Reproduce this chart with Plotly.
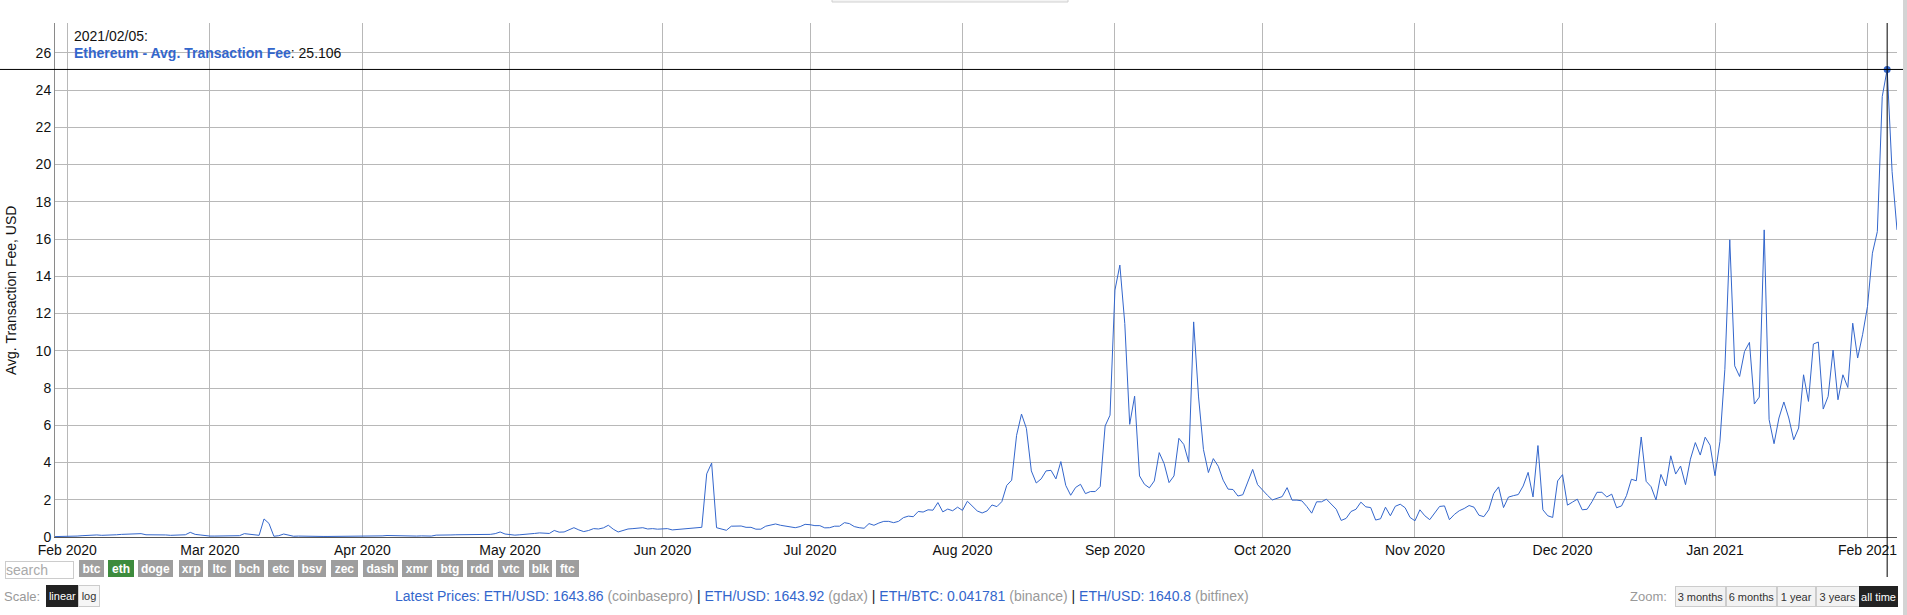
import pandas as pd
import plotly.graph_objects as go

# avg. transaction fee in USD, one value per day
fee_jan20 = [0.02, 0.02, 0.02]  # Jan 29-31
fee_feb20 = [0.02, 0.04, 0.05, 0.07, 0.09, 0.11, 0.11, 0.09, 0.09, 0.09,
             0.12, 0.14, 0.14, 0.14, 0.16, 0.18, 0.12, 0.12, 0.14, 0.14,
             0.11, 0.09, 0.11, 0.11, 0.12, 0.25, 0.14, 0.11, 0.07]
fee_mar20 = [0.05, 0.05, 0.05, 0.05, 0.07, 0.07, 0.07, 0.18, 0.14, 0.11,
             0.09, 0.97, 0.73, 0.04, 0.07, 0.16, 0.09, 0.04, 0.05, 0.04,
             0.03, 0.03, 0.04, 0.03, 0.03, 0.03, 0.02, 0.02, 0.03, 0.03, 0.03]
fee_apr20 = [0.03, 0.03, 0.04, 0.04, 0.06, 0.08, 0.07, 0.06, 0.06, 0.05,
             0.05, 0.05, 0.06, 0.05, 0.05, 0.10, 0.09, 0.10, 0.11, 0.12,
             0.12, 0.13, 0.13, 0.13, 0.13, 0.13, 0.14, 0.18, 0.27, 0.16]
fee_may20 = [0.13, 0.10, 0.12, 0.13, 0.15, 0.19, 0.22, 0.20, 0.19, 0.35,
             0.26, 0.27, 0.38, 0.50, 0.38, 0.29, 0.35, 0.45, 0.43, 0.49,
             0.63, 0.42, 0.27, 0.36, 0.43, 0.45, 0.49, 0.50, 0.43, 0.45, 0.42]
fee_jun20 = [0.42, 0.45, 0.38, 0.40, 0.42, 0.45, 0.49, 0.52, 0.52, 3.39,
             3.97, 0.50, 0.42, 0.36, 0.58, 0.58, 0.59, 0.52, 0.52, 0.42,
             0.42, 0.58, 0.66, 0.70, 0.63, 0.58, 0.54, 0.50, 0.56, 0.68]
fee_jul20 = [0.66, 0.61, 0.61, 0.49, 0.50, 0.58, 0.58, 0.77, 0.72, 0.56,
             0.50, 0.47, 0.72, 0.63, 0.75, 0.84, 0.84, 0.77, 0.84, 1.04,
             1.12, 1.09, 1.37, 1.34, 1.46, 1.44, 1.85, 1.35, 1.50, 1.41, 1.60]
fee_aug20 = [1.43, 1.92, 1.65, 1.40, 1.29, 1.40, 1.72, 1.63, 1.90, 2.77,
             3.05, 5.46, 6.60, 5.83, 3.55, 2.90, 3.12, 3.55, 3.58, 3.12,
             4.05, 2.77, 2.24, 2.66, 2.83, 2.33, 2.44, 2.44, 2.71, 5.96, 6.54]
fee_sep20 = [13.26, 14.60, 11.46, 6.05, 7.56, 3.28, 2.83, 2.64, 3.01, 4.53,
             3.94, 2.92, 3.28, 5.30, 4.97, 4.02, 11.55, 7.52, 4.69, 3.46,
             4.21, 3.80, 3.05, 2.57, 2.55, 2.20, 2.27, 2.95, 3.63, 2.81]
fee_oct20 = [2.51, 2.24, 1.99, 2.06, 2.17, 2.65, 1.98, 1.98, 1.94, 1.64,
             1.28, 1.89, 1.89, 2.03, 1.74, 1.49, 0.89, 1.00, 1.37, 1.49,
             1.87, 1.62, 1.58, 0.91, 0.98, 1.60, 1.14, 1.65, 1.76, 1.57, 1.05]
fee_nov20 = [0.87, 1.46, 1.14, 0.93, 1.30, 1.64, 1.67, 0.93, 1.21, 1.41,
             1.53, 1.69, 1.60, 1.17, 1.09, 1.46, 2.33, 2.69, 1.58, 2.14,
             2.22, 2.28, 2.74, 3.47, 2.15, 4.91, 1.46, 1.14, 1.05, 3.01]
fee_dec20 = [3.35, 1.71, 1.87, 2.03, 1.46, 1.49, 1.90, 2.40, 2.40, 2.15,
             2.30, 1.57, 1.67, 2.22, 3.10, 3.02, 5.37, 2.99, 2.70, 1.99,
             3.36, 2.74, 4.36, 3.38, 3.81, 2.81, 4.18, 5.07, 4.40, 5.36, 4.93]
fee_jan21 = [3.29, 5.13, 9.00, 15.96, 9.19, 8.62, 9.96, 10.45, 7.14, 7.51,
             16.49, 6.30, 5.01, 6.39, 7.25, 6.39, 5.22, 5.85, 8.71, 7.28,
             10.36, 10.47, 6.87, 7.55, 10.04, 7.37, 8.71, 8.03, 11.48, 9.61, 10.86]
fee_feb21 = [12.38, 15.24, 16.40, 23.65, 25.106, 19.62, 16.49]

fee = (fee_jan20 + fee_feb20 + fee_mar20 + fee_apr20 + fee_may20 + fee_jun20
       + fee_jul20 + fee_aug20 + fee_sep20 + fee_oct20 + fee_nov20 + fee_dec20
       + fee_jan21 + fee_feb21)
dates = pd.date_range("2020-01-29", "2021-02-07", freq="D")
assert len(dates) == len(fee)

SELECTED = "2021-02-05"
SERIES = "Ethereum - Avg. Transaction Fee"

coins = ["btc", "eth", "doge", "xrp", "ltc", "bch", "etc", "bsv", "zec",
         "dash", "xmr", "btg", "rdd", "vtc", "blk", "ftc"]
zoom_opts = ["3 months", "6 months", "1 year", "3 years", "all time"]
prices = [("ETH/USD", "1643.86", "coinbasepro"), ("ETH/USD", "1643.92", "gdax"),
          ("ETH/BTC", "0.041781", "binance"), ("ETH/USD", "1640.8", "bitfinex")]

BLUE = "#3366cc"
FONT = "Arial, Liberation Sans, sans-serif"
W, H = 1907, 615
L, R, T, B = 55, 10, 23, 78
PW, PH = W - L - R, H - T - B

# pixel edges of the page widgets under the chart
coin_edges = [(78.6, 104), (108, 134), (138.4, 173.2), (178.6, 203), (207.6, 230.8),
              (235, 264), (268, 294), (298, 326), (331, 358), (362.5, 397.3),
              (402, 432), (436.6, 462.5), (467.4, 493.3), (497.8, 524),
              (528.6, 551.8), (555.8, 578.6)]
zoom_edges = [1675, 1726, 1777, 1815.5, 1859, 1898]


def px(x):
    return (x - L) / PW


def py(y):
    return (H - B - y) / PH


sel_idx = dates.get_loc(pd.Timestamp(SELECTED))
sel_val = fee[sel_idx]

fig = go.Figure()
fig.add_trace(go.Scatter(x=dates, y=fee, mode="lines",
                         line=dict(color=BLUE, width=1), hoverinfo="skip"))
fig.add_trace(go.Scatter(x=[dates[sel_idx]], y=[sel_val], mode="markers",
                         marker=dict(color=BLUE, size=7), hoverinfo="skip",
                         cliponaxis=False))

shapes = [
    dict(type="line", xref="x", yref="paper", x0=dates[sel_idx], x1=dates[sel_idx],
         y0=py(577), y1=1, line=dict(color="black", width=1)),
    dict(type="line", xref="paper", yref="y", x0=px(0), x1=px(1903),
         y0=sel_val, y1=sel_val, line=dict(color="black", width=1)),
    # scrollbar strip and cut-off toolbar at the top
    dict(type="rect", xref="paper", yref="paper", x0=px(1903), x1=px(1910),
         y0=py(H), y1=py(0), fillcolor="#d4d4d4", line=dict(width=0)),
    dict(type="rect", xref="paper", yref="paper", x0=px(832), x1=px(1068),
         y0=py(2), y1=py(-6), fillcolor="#f4f4f4", line=dict(color="#d0d0d0", width=1)),
]

ann = []
ann.append(dict(text=dates[sel_idx].strftime("%Y/%m/%d") + ":", x=px(72), y=py(36),
                xanchor="left", yanchor="middle", font=dict(size=14, color="#111")))
ann.append(dict(text=f"<b><span style='color:{BLUE}'>{SERIES}</span></b>: {sel_val:.3f}",
                x=px(72), y=py(53), xanchor="left", yanchor="middle",
                font=dict(size=14, color="#111")))
ann.append(dict(text="Avg. Transaction Fee, USD", textangle=-90, x=px(11), y=py(291),
                xanchor="center", yanchor="middle", font=dict(size=14, color="#111")))

# search box
ann.append(dict(text="search", x=px(4.5), y=py(569.5), xanchor="left", yanchor="middle",
                width=67, height=16, align="left", bgcolor="white", bordercolor="#cccccc",
                borderwidth=1, borderpad=0, font=dict(size=14, color="#aaaaaa")))

# coin buttons
for c, (x0, x1) in zip(coins, coin_edges):
    col = "#3d8b3d" if c == "eth" else "#9e9e9e"
    ann.append(dict(text=f"<b>{c}</b>", x=px(x0), y=py(568.5), xanchor="left",
                    yanchor="middle", width=x1 - x0 - 2, height=15, borderpad=0,
                    borderwidth=1, bgcolor=col, bordercolor=col,
                    font=dict(size=12, color="white")))

# scale row
ann.append(dict(text="Scale:", x=px(2), y=py(596), xanchor="left", yanchor="middle",
                font=dict(size=13, color="#999999")))
ann.append(dict(text="linear", x=px(45.5), y=py(596), xanchor="left", yanchor="middle",
                width=31, height=20, borderpad=0, borderwidth=1, bgcolor="#222222",
                bordercolor="#222222", font=dict(size=11, color="white")))
ann.append(dict(text="log", x=px(78), y=py(596), xanchor="left", yanchor="middle",
                width=20, height=20, borderpad=0, borderwidth=1, bgcolor="#f6f6f6",
                bordercolor="#cccccc", font=dict(size=11, color="#333333")))

# latest prices
parts = []
for i, (pair, val, ex) in enumerate(prices):
    if i == 0:
        parts.append(f"<span style='color:{BLUE}'>Latest Prices: {pair}: {val}</span>")
    else:
        parts.append(f"<span style='color:#222'> | </span><span style='color:{BLUE}'>{pair}: {val}</span>")
    parts.append(f"<span style='color:#999999'> ({ex})</span>")
ann.append(dict(text="".join(parts), x=px(393), y=py(596), xanchor="left",
                yanchor="middle", font=dict(size=14)))

# zoom buttons
ann.append(dict(text="Zoom:", x=px(1669), y=py(596), xanchor="right", yanchor="middle",
                font=dict(size=13, color="#999999")))
for i, z in enumerate(zoom_opts):
    active = z == "all time"
    ann.append(dict(text=z, x=px(zoom_edges[i]), y=py(596), xanchor="left",
                    yanchor="middle", width=zoom_edges[i + 1] - zoom_edges[i] - 2,
                    height=19, borderpad=0, borderwidth=1,
                    bgcolor="#222222" if active else "#f2f2f2",
                    bordercolor="#222222" if active else "#cccccc",
                    font=dict(size=11, color="white" if active else "#333333")))

for a in ann:
    a.setdefault("xref", "paper")
    a.setdefault("yref", "paper")
    a.setdefault("showarrow", False)

fig.update_layout(
    width=W, height=H,
    margin=dict(l=L, r=R, t=T, b=B),
    paper_bgcolor="white", plot_bgcolor="white",
    showlegend=False,
    font=dict(family=FONT, size=14, color="#111"),
    shapes=shapes, annotations=ann,
    hovermode=False,
)
fig.update_xaxes(
    type="date", range=["2020-01-29 12:00", "2021-02-07"],
    dtick="M1", tickformat="%b %Y",
    showgrid=True, gridcolor="#b8b8b8", gridwidth=1,
    showline=True, linecolor="#555555", linewidth=1,
    zeroline=False, ticks="", tickfont=dict(size=14, color="#111"),
)
fig.update_yaxes(
    range=[0, 27.6], tick0=0, dtick=2,
    showgrid=True, gridcolor="#b8b8b8", gridwidth=1,
    showline=True, linecolor="#8a8a8a", linewidth=1,
    zeroline=False, ticks="", tickfont=dict(size=14, color="#111"),
)

fig.write_html("out.html", config={"displayModeBar": False},
               post_script="document.body.style.margin='0';document.body.style.overflow='hidden';")
